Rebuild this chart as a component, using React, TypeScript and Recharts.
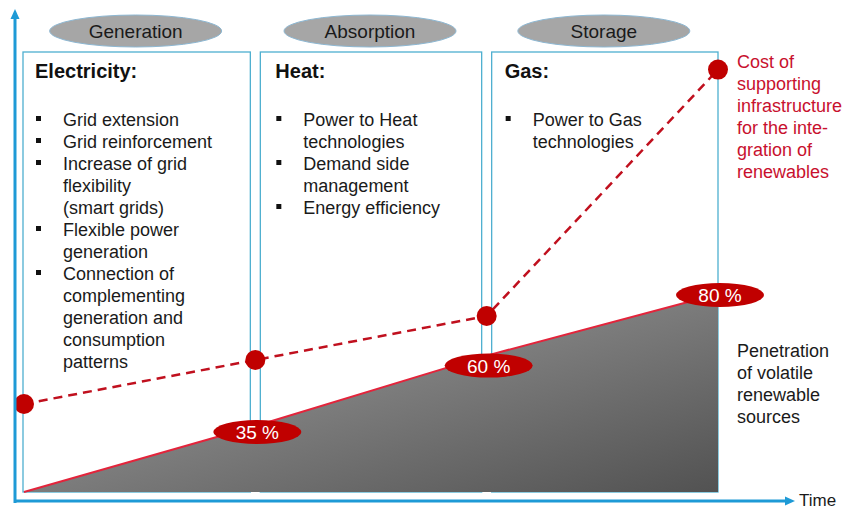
import { ComposedChart, Area, Line, XAxis, YAxis, ReferenceArea, LabelList } from 'recharts'

// time steps along the phases, and the two curves drawn over them
const timeSteps = [0, 1, 2, 3]
const penetration = [0, 15, 31, 45]
const penetrationLabels = ['', '35 %', '60 %', '80 %']
const infraCost = [20, 30, 40, 96]

const phases = ['Generation', 'Absorption', 'Storage']
const sectors = ['Electricity:', 'Heat:', 'Gas:']
const measures = [
  [
    ['Grid extension'],
    ['Grid reinforcement'],
    ['Increase of grid', 'flexibility', '(smart grids)'],
    ['Flexible power', 'generation'],
    ['Connection of', 'complementing', 'generation and', 'consumption', 'patterns'],
  ],
  [['Power to Heat', 'technologies'], ['Demand side', 'management'], ['Energy efficiency']],
  [['Power to Gas', 'technologies']],
]
const costText = ['Cost of', 'supporting', 'infrastructure', 'for the inte-', 'gration of', 'renewables']
const penetrationText = ['Penetration', 'of volatile', 'renewable', 'sources']

const FONT = 'Arial, "Liberation Sans", sans-serif'
const BLUE = '#1e9ad6'
const BOX = '#4eafd0'
const DARK_RED = '#c00000'
const RED = '#e3243b'
const W = 845
const H = 511

const chartData = timeSteps.map((t, i) => ({
  t,
  penetration: penetration[i],
  label: penetrationLabels[i],
  cost: infraCost[i],
}))

const textNudge = [0, 3, 1]

const PhaseBox = (props: any) => {
  const { x, y, width, height, index } = props
  const x0 = x + (index === 0 ? -1 : 5)
  const x1 = x + width - (index === 2 ? 0 : 5)
  const cx = (x0 + x1) / 2
  const tx = x0 + textNudge[index]
  let row = 0
  return (
    <g fontFamily={FONT}>
      <rect x={x0} y={y} width={x1 - x0} height={height} fill="none" stroke={BOX} strokeWidth={1.3} />
      <ellipse cx={cx - 1} cy={31} rx={86} ry={16} fill="#a6a6a6" stroke="#8db7d2" strokeWidth={1} />
      <text x={cx - 1} y={38} textAnchor="middle" fontSize={19} fill="#1a1a1a">{phases[index]}</text>
      <text x={tx + 12} y={y + 26} fontSize={20} fontWeight={700} fill="#111">{sectors[index]}</text>
      {measures[index].map((item, k) => {
        const start = row
        row += item.length
        return (
          <g key={k}>
            <rect x={tx + 13} y={y + 64 + start * 22} width={5} height={5} fill="#111" />
            {item.map((line, j) => (
              <text key={j} x={tx + 40} y={y + 74 + (start + j) * 22} fontSize={18} fill="#1a1a1a">{line}</text>
            ))}
          </g>
        )
      })}
    </g>
  )
}

const labelNudge = [0, 6, 10, 1]

const PenetrationLabel = (props: any) => {
  const { x, y, value, index } = props
  if (!value) return null
  const cy = y + labelNudge[index]
  return (
    <g>
      <ellipse cx={x + 2} cy={cy} rx={44} ry={12} fill={DARK_RED} />
      <text x={x + 2} y={cy + 7} textAnchor="middle" fontSize={19} fontFamily={FONT} fill="#fff">{value}</text>
    </g>
  )
}

export default function App() {
  return (
    <div style={{ position: 'absolute', left: 0, top: 0, width: W, height: H, background: '#fff' }}>
      <ComposedChart width={W} height={H} data={chartData} margin={{ top: 52, right: 127, bottom: 19, left: 24 }}>
        <defs>
          <linearGradient id="penFill" x1="0" y1="0" x2="1" y2="1">
            <stop offset="0%" stopColor="#a6a6a6" />
            <stop offset="100%" stopColor="#525252" />
          </linearGradient>
        </defs>
        <XAxis type="number" dataKey="t" domain={[0, 3]} hide />
        <YAxis type="number" domain={[0, 100]} hide />
        {phases.map((p, i) => (
          <ReferenceArea
            key={p}
            x1={i}
            x2={i + 1}
            y1={0}
            y2={100}
            shape={(s: any) => <PhaseBox {...s} index={i} />}
          />
        ))}
        <Area
          type="linear"
          dataKey="penetration"
          stroke={RED}
          strokeWidth={2}
          fill="url(#penFill)"
          fillOpacity={1}
          isAnimationActive={false}
          dot={false}
          activeDot={false}
        >
          <LabelList dataKey="label" content={<PenetrationLabel />} />
        </Area>
        <Line
          type="linear"
          dataKey="cost"
          stroke="#c0101e"
          strokeWidth={2.5}
          strokeDasharray="9 6"
          dot={{ r: 10, fill: DARK_RED, stroke: 'none' }}
          activeDot={false}
          isAnimationActive={false}
        />
      </ComposedChart>
      <svg width={W} height={H} style={{ position: 'absolute', left: 0, top: 0, pointerEvents: 'none' }} fontFamily={FONT}>
        <line x1={15} y1={503} x2={15} y2={17} stroke={BLUE} strokeWidth={3} />
        <polygon points="15,9 10.5,19 19.5,19" fill={BLUE} />
        <line x1={14} y1={501} x2={787} y2={501} stroke={BLUE} strokeWidth={3} />
        <polygon points="795,501 785,496.5 785,505.5" fill={BLUE} />
        <text x={799} y={506} fontSize={17} fill="#1a1a1a">Time</text>
        {costText.map((t, i) => (
          <text key={t} x={737} y={68 + i * 22} fontSize={18} fill="#c8102e">{t}</text>
        ))}
        {penetrationText.map((t, i) => (
          <text key={t} x={737} y={357 + i * 22} fontSize={18} fill="#1a1a1a">{t}</text>
        ))}
      </svg>
    </div>
  )
}
